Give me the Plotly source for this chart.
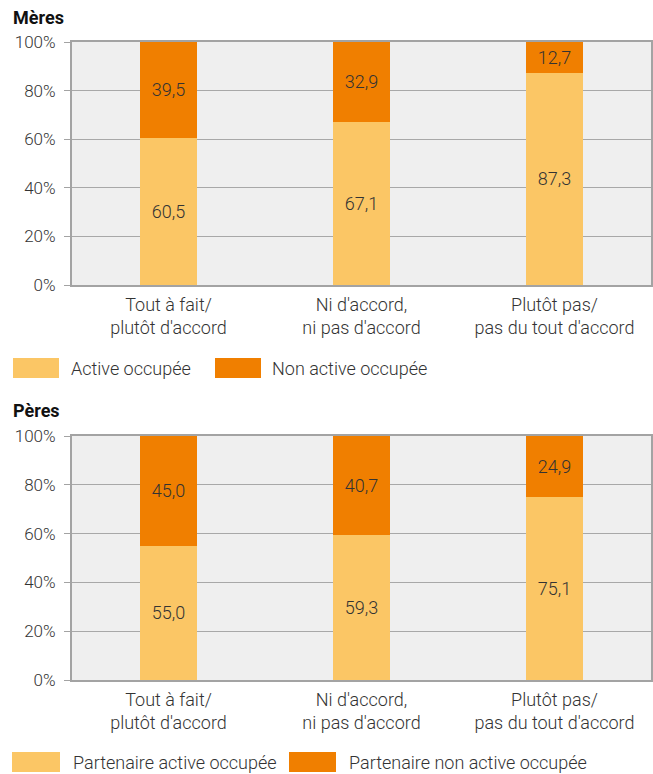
import plotly.graph_objects as go

categories = ["Tout à fait/<br>plutôt d'accord", "Ni d'accord,<br>ni pas d'accord", "Plutôt pas/<br>pas du tout d'accord"]
meres_active = [60.5, 67.1, 87.3]
meres_non_active = [39.5, 32.9, 12.7]
peres_active = [55.0, 59.3, 75.1]
peres_non_active = [45.0, 40.7, 24.9]
y_ticks = [0, 20, 40, 60, 80, 100]
y_tick_labels = ["0%", "20%", "40%", "60%", "80%", "100%"]

LIGHT = "#FBC665"
DARK = "#F07F00"
TXT = "#333333"
FONT = "Roboto"
FS = 18
FS_TICK = 17
W, H = 653, 774

def py(px):
    return 1 - px / H

def px_(x):
    return x / W

fig = go.Figure()
for vals, color, xa, ya in [
    (meres_active, LIGHT, "x", "y"),
    (meres_non_active, DARK, "x", "y"),
    (peres_active, LIGHT, "x2", "y2"),
    (peres_non_active, DARK, "x2", "y2"),
]:
    fig.add_trace(go.Bar(
        x=categories, y=vals, marker=dict(color=color, line=dict(width=0)),
        width=0.295, xaxis=xa, yaxis=ya, showlegend=False,
        texttemplate="%{y:.1f}", textposition="inside", insidetextanchor="middle",
        textangle=0, textfont=dict(family=FONT, size=FS, color=TXT, weight=300),
        hoverinfo="skip",
    ))

axis_common = dict(showline=True, linecolor="#A3A3A3", linewidth=2, mirror=True, automargin=False)
yaxis_common = dict(
    range=[0, 100], tickmode="array", tickvals=y_ticks, ticktext=y_tick_labels, showgrid=True,
    gridcolor="#A8A8A8", gridwidth=1, ticks="outside", ticklen=6, tickcolor="#A3A3A3",
    tickfont=dict(family=FONT, size=FS_TICK, color=TXT, weight=300), ticklabelstandoff=5,
    zeroline=False, **axis_common,
)
xaxis_common = dict(
    showgrid=False, ticks="", tickfont=dict(family=FONT, size=FS, color=TXT, weight=300),
    range=[-0.5, 2.5], ticklabelstandoff=2, **axis_common,
)

fig.update_layout(
    width=W, height=H, barmode="stack", separators=", ",
    plot_bgcolor="#EFEFEF", paper_bgcolor="white",
    margin=dict(l=0, r=0, t=0, b=0, autoexpand=False),
    font=dict(family=FONT, color=TXT),
    xaxis=dict(domain=[px_(72), px_(651)], anchor="y", **xaxis_common),
    yaxis=dict(domain=[py(285), py(42)], anchor="x", **yaxis_common),
    xaxis2=dict(domain=[px_(72), px_(651)], anchor="y2", **xaxis_common),
    yaxis2=dict(domain=[py(680), py(436)], anchor="x2", **yaxis_common),
)

# Titles
for text, ypix in [("Mères", 17), ("Pères", 410)]:
    fig.add_annotation(text=f"<b>{text}</b>", x=px_(11), y=py(ypix), xref="paper", yref="paper",
                       xanchor="left", yanchor="middle", showarrow=False,
                       font=dict(family=FONT, size=FS, color="#111111"))

# Legends
legends = [
    (368, [(13, 59, 69, "Active occupée", LIGHT), (215, 261, 270, "Non active occupée", DARK)]),
    (762, [(12, 60, 71, "Partenaire active occupée", LIGHT), (289, 336, 347, "Partenaire non active occupée", DARK)]),
]
for yc, items in legends:
    for x0, x1, tx, label, color in items:
        fig.add_shape(type="rect", xref="paper", yref="paper",
                      x0=px_(x0), x1=px_(x1), y0=py(yc + 10), y1=py(yc - 10),
                      fillcolor=color, line=dict(width=0))
        fig.add_annotation(text=label, x=px_(tx), y=py(yc), xref="paper", yref="paper",
                           xanchor="left", yanchor="middle", showarrow=False,
                           font=dict(family=FONT, size=FS, color=TXT, weight=300))

fig.write_html("out.html", config={"displayModeBar": False},
               post_script="document.body.style.margin='0';document.body.style.overflow='hidden';")
